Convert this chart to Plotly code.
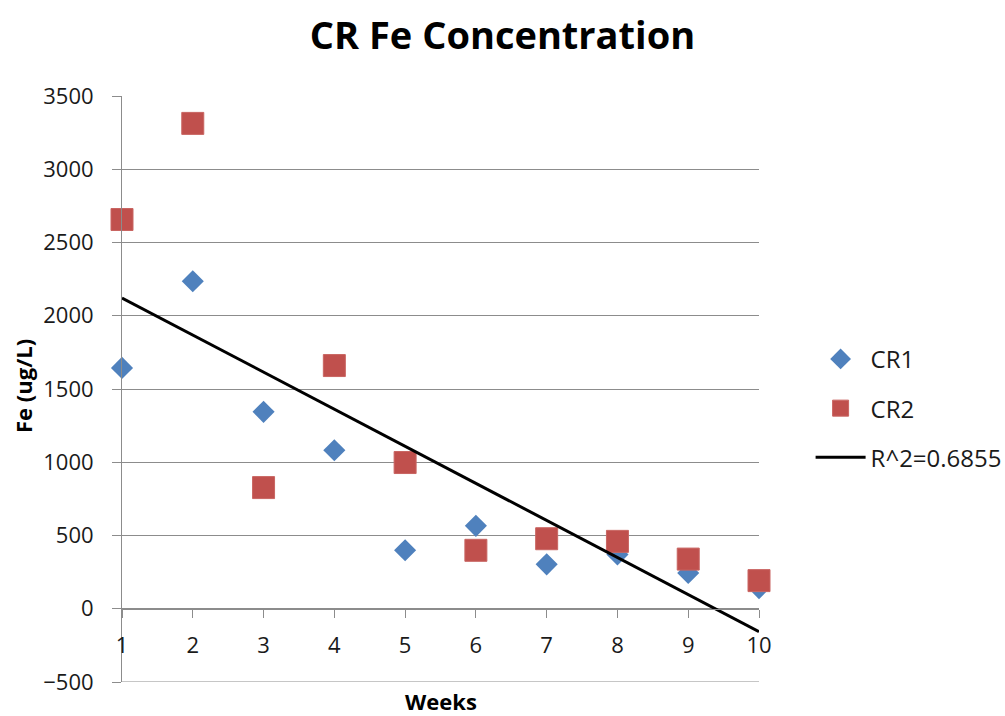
import numpy as np
import plotly.graph_objects as go

# Weekly Fe concentration (ug/L) for the two CR sampling sites
weeks = [1, 2, 3, 4, 5, 6, 7, 8, 9, 10]
cr1 = [1644, 2236, 1344, 1082, 399, 566, 303, 370, 244, 141]
cr2 = [2657, 3313, 827, 1660, 998, 399, 478, 460, 339, 192]
trend_label = "R^2=0.6855"

y_ticks = list(range(-500, 3501, 500))
y_range = [-500, 3500]
x_range = [1, 10]

# Linear trend fitted through both series together
all_x = np.array(weeks + weeks, dtype=float)
all_y = np.array(cr1 + cr2, dtype=float)
slope, intercept = np.polyfit(all_x, all_y, 1)
trend_x = [weeks[0], weeks[-1]]
trend_y = [slope * x + intercept for x in trend_x]

FONT = "Open Sans"
TEXT = "#1a1a1a"
GRID = "#8c8c8c"

fig = go.Figure()
fig.add_trace(go.Scatter(
    x=weeks, y=cr1, mode="markers", name="CR1", legendgroup="a",
    cliponaxis=False,
    marker=dict(symbol="diamond", size=17, color="#4F81BD",
                line=dict(width=0)),
))
fig.add_trace(go.Scatter(
    x=weeks, y=cr2, mode="markers", name="CR2", legendgroup="b",
    cliponaxis=False,
    marker=dict(symbol="square", size=22, color="#C0504D",
                line=dict(width=1, color="#C96562")),
))
fig.add_trace(go.Scatter(
    x=trend_x, y=trend_y, mode="lines", name=trend_label, legendgroup="c",
    cliponaxis=False,
    line=dict(color="black", width=3),
))

# x axis crosses the y axis at 0
x_pos = (0 - y_range[0]) / (y_range[1] - y_range[0])

fig.update_layout(
    width=1005, height=716,
    margin=dict(l=122, r=246, t=96, b=34, autoexpand=False),
    paper_bgcolor="white", plot_bgcolor="white",
    font=dict(family=FONT, color=TEXT, size=22),
    title=dict(text="<b>CR Fe Concentration</b>", xref="container", x=0.5,
               xanchor="center", yref="container", y=1 - 35.5 / 716,
               yanchor="middle", font=dict(size=38, family=FONT, color="black")),
    xaxis=dict(range=x_range, tickvals=weeks, showgrid=False, zeroline=False,
               showline=True, linecolor=GRID, linewidth=1,
               ticks="outside", ticklen=8, tickcolor=GRID,
               anchor="free", position=x_pos, ticklabelstandoff=9,
               tickfont=dict(size=22, color=TEXT)),
    yaxis=dict(range=y_range, tickvals=y_ticks, showgrid=True, gridcolor=GRID,
               gridwidth=1, zeroline=False, showline=True, linecolor=GRID,
               linewidth=1, ticks="outside", ticklen=9, tickcolor=GRID,
               ticklabelstandoff=14, tickfont=dict(size=22, color=TEXT)),
    legend=dict(x=1.081, xanchor="left", y=0.467, yanchor="middle",
                itemwidth=50, tracegroupgap=15, traceorder="grouped",
                font=dict(size=24, color=TEXT), bgcolor="rgba(0,0,0,0)"),
    showlegend=True,
    shapes=[
        # bottom gridline at the lower end of the value axis
        dict(type="line", xref="paper", x0=0, x1=1, yref="y",
             y0=y_range[0], y1=y_range[0], line=dict(color=GRID, width=1),
             layer="below"),
    ],
    annotations=[
        dict(text="<b>Weeks</b>", xref="paper", yref="paper", x=0.5,
             y=(682 - 701) / 586, xanchor="center", yanchor="middle",
             showarrow=False, font=dict(size=22, color="black")),
        dict(text="<b>Fe (ug/L)</b>", xref="paper", yref="paper",
             x=(23 - 122) / 637, y=1 - (386 - 96) / 586, textangle=-90,
             xanchor="center", yanchor="middle", showarrow=False,
             font=dict(size=22, color="black")),
    ],
)

fig.write_html("out.html")
